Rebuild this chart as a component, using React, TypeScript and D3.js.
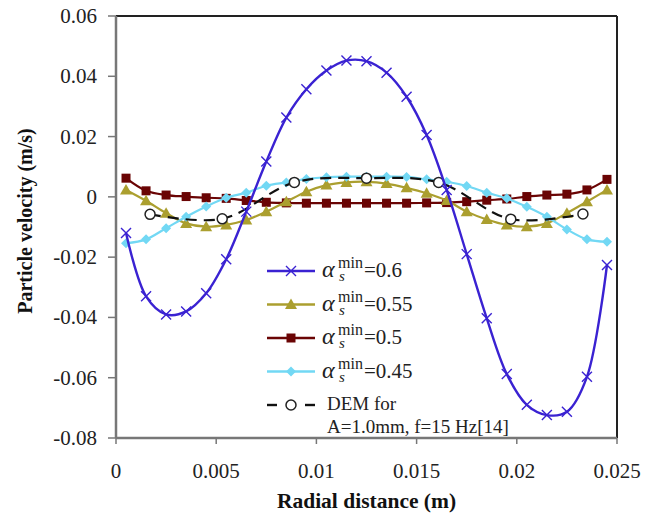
import React from "react";
import * as d3 from "d3";

const xValues = [0.0005, 0.0015, 0.0025, 0.0035, 0.0045, 0.0055, 0.0065, 0.0075, 0.0085, 0.0095, 0.0105, 0.0115, 0.0125, 0.0135, 0.0145, 0.0155, 0.0165, 0.0175, 0.0185, 0.0195, 0.0205, 0.0215, 0.0225, 0.0235, 0.0245];
const s06 = [-0.012, -0.033, -0.039, -0.038, -0.032, -0.0207, -0.0049, 0.0117, 0.0263, 0.0357, 0.0419, 0.0452, 0.045, 0.0412, 0.0332, 0.0205, 0.0023, -0.019, -0.0403, -0.0588, -0.069, -0.0724, -0.0713, -0.0597, -0.0226];
const s055 = [0.0023, -0.0013, -0.0054, -0.0088, -0.0099, -0.0093, -0.0077, -0.0049, -0.0016, 0.0017, 0.0039, 0.0048, 0.005, 0.0044, 0.003, 0.0012, -0.0012, -0.0049, -0.0075, -0.0093, -0.0099, -0.0088, -0.0054, -0.0016, 0.0023];
const s05 = [0.0062, 0.002, 0.0006, 0.0001, -0.0003, -0.0005, -0.0012, -0.0018, -0.002, -0.0021, -0.0021, -0.0021, -0.0021, -0.0021, -0.0021, -0.002, -0.0019, -0.0016, -0.0011, -0.0007, 0.0001, 0.0006, 0.0009, 0.0023, 0.0058];
const s045 = [-0.0154, -0.0141, -0.0104, -0.0066, -0.0032, -0.0003, 0.0014, 0.0037, 0.0048, 0.0059, 0.0065, 0.0067, 0.0067, 0.0067, 0.0066, 0.0058, 0.005, 0.0036, 0.0014, -0.0005, -0.0033, -0.0066, -0.0108, -0.0141, -0.0149];
const demX = [0.0017, 0.0053, 0.0089, 0.0125, 0.0161, 0.0197, 0.0233];
const demY = [-0.0058, -0.0073, 0.0048, 0.0062, 0.0048, -0.0074, -0.0057];

const yTicks = [0.06, 0.04, 0.02, 0, -0.02, -0.04, -0.06, -0.08];
const yTickLabels = ["0.06", "0.04", "0.02", "0", "-0.02", "-0.04", "-0.06", "-0.08"];
const xTicks = [0, 0.005, 0.01, 0.015, 0.02, 0.025];
const xTickLabels = ["0", "0.005", "0.01", "0.015", "0.02", "0.025"];
const legendValues = ["0.6", "0.55", "0.5", "0.45"];

const FONT = "'Liberation Serif', 'Times New Roman', serif";

function Marker({ type, x, y, color }: { type: string; x: number; y: number; color: string }) {
  if (type === "x") {
    const r = 5;
    return (
      <path d={`M${x - r},${y - r}L${x + r},${y + r}M${x - r},${y + r}L${x + r},${y - r}`} stroke={color} strokeWidth={1.4} fill="none" />
    );
  }
  if (type === "tri") {
    const r = 6;
    return <path d={`M${x},${y - r}L${x + r},${y + r * 0.75}L${x - r},${y + r * 0.75}Z`} fill={color} />;
  }
  if (type === "sq") {
    const r = 4.5;
    return <rect x={x - r} y={y - r} width={2 * r} height={2 * r} fill={color} />;
  }
  if (type === "dia") {
    const r = 5;
    return <path d={`M${x},${y - r}L${x + r},${y}L${x},${y + r}L${x - r},${y}Z`} fill={color} />;
  }
  return <circle cx={x} cy={y} r={5} fill="white" stroke="#222" strokeWidth={1.5} />;
}

export default function App() {
  const left = 116, right = 617, top = 16, bottom = 438;
  const x = d3.scaleLinear().domain([0, 0.025]).range([left, right]);
  const y = d3.scaleLinear().domain([-0.08, 0.06]).range([bottom, top]);
  const line = d3
    .line<[number, number]>()
    .x((d) => x(d[0]))
    .y((d) => y(d[1]))
    .curve(d3.curveCatmullRom.alpha(0.5));

  const series = [
    { vals: s05, color: "#6a0404", type: "sq", width: 2.2 },
    { vals: s055, color: "#ab9f2f", type: "tri", width: 2.2 },
    { vals: s045, color: "#72d8f4", type: "dia", width: 2.2 },
  ];
  const blue = { vals: s06, color: "#3a22d2", type: "x", width: 2.4 };
  const demPts: [number, number][] = demX.map((d, i) => [d, demY[i]]);

  const legendItems = [
    { color: "#3a22d2", type: "x" },
    { color: "#ab9f2f", type: "tri" },
    { color: "#6a0404", type: "sq" },
    { color: "#72d8f4", type: "dia" },
  ];
  const legX0 = 267, legX1 = 315, legY0 = 271, legStep = 33.5;

  const drawSeries = (s: { vals: number[]; color: string; type: string; width: number }, key: string) => {
    const pts: [number, number][] = xValues.map((d, i) => [d, s.vals[i]]);
    return (
      <g key={key}>
        <path d={line(pts) || ""} fill="none" stroke={s.color} strokeWidth={s.width} />
        {pts.map((p, i) => (
          <Marker key={i} type={s.type} x={x(p[0])} y={y(p[1])} color={s.color} />
        ))}
      </g>
    );
  };

  return (
    <svg
      width={658}
      height={514}
      style={{ display: "block", position: "absolute", left: 0, top: 0, background: "white" }}
      fontFamily={FONT}
    >
      <rect x={0} y={0} width={658} height={514} fill="white" />
      {/* frame */}
      <line x1={left} y1={top} x2={right} y2={top} stroke="#222" strokeWidth={2} />
      <line x1={right} y1={top} x2={right} y2={bottom} stroke="#222" strokeWidth={2} />
      {/* axes */}
      <line x1={left} y1={top} x2={left} y2={bottom} stroke="#777" strokeWidth={2.5} />
      <line x1={left} y1={bottom} x2={right} y2={bottom} stroke="#777" strokeWidth={2.5} />
      {yTicks.map((t, i) => (
        <g key={"y" + i}>
          <line x1={left - 8} x2={left} y1={y(t)} y2={y(t)} stroke="#777" strokeWidth={1.5} />
          <text x={97} y={y(t) + 7} textAnchor="end" fontSize={21} fill="#222">
            {yTickLabels[i]}
          </text>
        </g>
      ))}
      {xTicks.map((t, i) => (
        <g key={"x" + i}>
          <line x1={x(t)} x2={x(t)} y1={bottom} y2={bottom + 6} stroke="#777" strokeWidth={1.5} />
          <text x={x(t)} y={478} textAnchor="middle" fontSize={21} fill="#222">
            {xTickLabels[i]}
          </text>
        </g>
      ))}
      <text x={(left + right) / 2} y={508} textAnchor="middle" fontSize={21.5} fontWeight="bold" fill="#111">
        Radial distance (m)
      </text>
      <text
        transform={`translate(32,221) rotate(-90)`}
        textAnchor="middle"
        fontSize={20}
        fontWeight="bold"
        fill="#111"
      >
        Particle velocity (m/s)
      </text>

      {/* data */}
      {series.map((s, i) => drawSeries(s, "s" + i))}
      <path d={line(demPts) || ""} fill="none" stroke="#111" strokeWidth={2.2} strokeDasharray="11,7" />
      {demPts.map((p, i) => (
        <Marker key={"d" + i} type="o" x={x(p[0])} y={y(p[1])} color="#222" />
      ))}
      {drawSeries(blue, "blue")}

      {/* legend */}
      {legendItems.map((it, i) => {
        const ly = legY0 + i * legStep;
        return (
          <g key={"l" + i}>
            <line x1={legX0} x2={legX1} y1={ly} y2={ly} stroke={it.color} strokeWidth={2.4} />
            <Marker type={it.type} x={(legX0 + legX1) / 2} y={ly} color={it.color} />
            <text x={322} y={ly + 6} fill="#222">
              <tspan fontSize={24} fontStyle="italic">α</tspan>
              <tspan x={338} dy={-9} fontSize={16}>min</tspan>
              <tspan x={339} dy={13} fontSize={15} fontStyle="italic">s</tspan>
              <tspan x={364} dy={-4} fontSize={21}>{"=" + legendValues[i]}</tspan>
            </text>
          </g>
        );
      })}
      {(() => {
        const ly = legY0 + 4 * legStep;
        return (
          <g>
            <line x1={legX0} x2={legX0 + 10} y1={ly} y2={ly} stroke="#111" strokeWidth={2.4} />
            <line x1={legX1 - 10} x2={legX1} y1={ly} y2={ly} stroke="#111" strokeWidth={2.4} />
            <Marker type="o" x={(legX0 + legX1) / 2} y={ly} color="#222" />
            <text x={327} y={ly + 5} fontSize={19} fill="#222">
              DEM for
            </text>
            <text x={327} y={ly + 28} fontSize={19} fill="#222">
              A=1.0mm, f=15 Hz[14]
            </text>
          </g>
        );
      })()}
    </svg>
  );
}
